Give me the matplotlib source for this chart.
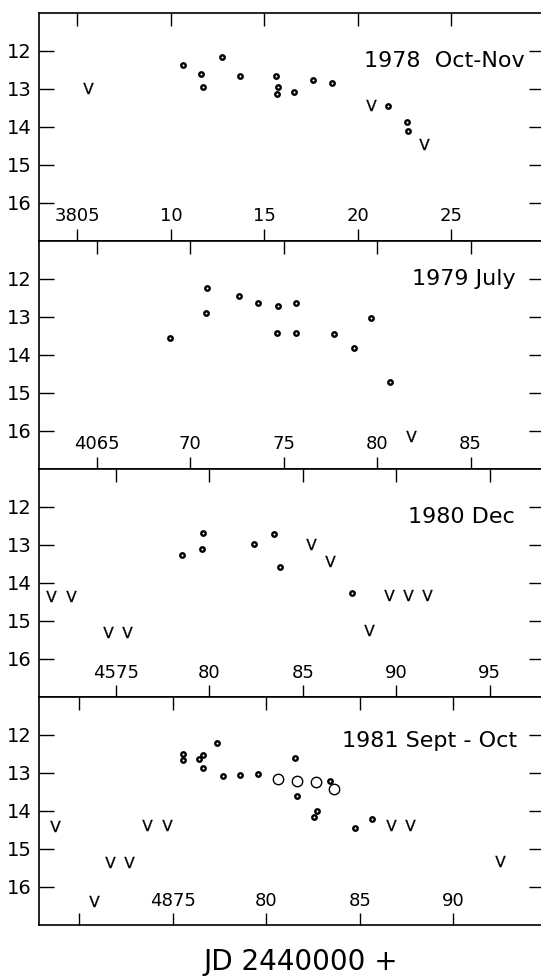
import matplotlib
matplotlib.use("Agg")
import matplotlib.pyplot as plt

# 1978 Oct-Nov
p1_det_jd = [3810.65, 3811.62, 3811.70, 3812.71, 3813.69, 3815.63, 3815.72, 3815.67,
             3816.58, 3817.60, 3818.63, 3821.62, 3822.64, 3822.68]
p1_det_mag = [12.38, 12.63, 12.97, 12.16, 12.67, 12.67, 12.96, 13.14,
              13.09, 12.77, 12.86, 13.47, 13.87, 14.11]
p1_lim_jd = [3805.57, 3820.70, 3823.56]
p1_lim_mag = [12.99, 13.43, 14.47]

# 1979 July
p2_det_jd = [4068.91, 4070.90, 4070.87, 4072.62, 4073.64, 4074.71, 4075.66, 4074.67,
             4075.66, 4077.69, 4078.74, 4079.67, 4080.68]
p2_det_mag = [13.57, 12.25, 12.90, 12.45, 12.65, 12.71, 12.63, 13.44,
              13.42, 13.46, 13.82, 13.03, 14.73]
p2_lim_jd = [4081.79]
p2_lim_mag = [16.13]

# 1980 Dec
p3_det_jd = [4578.56, 4579.61, 4579.67, 4582.42, 4583.45, 4583.76, 4587.64]
p3_det_mag = [13.27, 13.12, 12.69, 12.99, 12.72, 13.58, 14.27]
p3_lim_jd = [4571.55, 4572.60, 4574.57, 4575.61, 4585.42, 4586.44, 4588.56,
             4589.61, 4590.63, 4591.66]
p3_lim_mag = [14.35, 14.35, 15.29, 15.29, 12.99, 13.42, 15.25,
              14.31, 14.31, 14.31]

# 1981 Sept - Oct
p4_det_jd = [4875.56, 4875.56, 4876.41, 4876.63, 4876.59, 4877.34, 4877.66, 4878.59,
             4879.57, 4881.53, 4881.62, 4883.40, 4882.69, 4882.56, 4884.72, 4885.64]
p4_det_mag = [12.50, 12.66, 12.64, 12.52, 12.86, 12.22, 13.08, 13.06,
              13.03, 12.61, 13.62, 13.21, 13.99, 14.15, 14.46, 14.22]
p4_open_jd = [4880.64, 4881.65, 4882.65, 4883.61]
p4_open_mag = [13.17, 13.21, 13.25, 13.43]
p4_lim_jd = [4868.71, 4870.77, 4871.66, 4872.67, 4873.59, 4874.70, 4886.66,
             4887.67, 4892.51]
p4_lim_mag = [14.40, 16.37, 15.33, 15.33, 14.38, 14.38, 14.36,
              14.36, 15.31]

titles = ["1978  Oct-Nov", "1979 July", "1980 Dec", "1981 Sept - Oct"]
jd_ticks = [[3805, 3810, 3815, 3820, 3825],
            [4065, 4070, 4075, 4080, 4085],
            [4575, 4580, 4585, 4590, 4595],
            [4870, 4875, 4880, 4885, 4890]]
jd_ticklabels = [["3805", "10", "15", "20", "25"],
                 ["4065", "70", "75", "80", "85"],
                 ["4575", "80", "85", "90", "95"],
                 ["", "4875", "80", "85", "90"]]
jd_start = [3802.95, 4061.92, 4570.90, 4867.84]
mag_ticks = [12, 13, 14, 15, 16]

det_jd = [p1_det_jd, p2_det_jd, p3_det_jd, p4_det_jd]
det_mag = [p1_det_mag, p2_det_mag, p3_det_mag, p4_det_mag]
lim_jd = [p1_lim_jd, p2_lim_jd, p3_lim_jd, p4_lim_jd]
lim_mag = [p1_lim_mag, p2_lim_mag, p3_lim_mag, p4_lim_mag]

# layout (pixels of the 541x976 figure)
W, H = 541.0, 976.0
left_px, right_px = 39.0, 544.0
top_px, bottom_px = 12.5, 925.0
panel_h = (bottom_px - top_px) / 4
title_x = [0.962, 0.943, 0.943, 0.946]
title_y = [0.789, 0.831, 0.790, 0.808]

fig = plt.figure(figsize=(W / 100, H / 100), dpi=100)
axes = []
for i in range(4):
    y0 = bottom_px - (3 - i) * panel_h
    ax = fig.add_axes([left_px / W, 1 - y0 / H, (right_px - left_px) / W, panel_h / H])
    axes.append(ax)

    ax.plot(det_jd[i], det_mag[i], "o", ms=3.2, mfc="white", mec="black", mew=1.7,
            ls="none")
    ax.plot(lim_jd[i], lim_mag[i], marker=r"$\mathrm{V}$", ms=8, color="black",
            mew=0.2, ls="none")
    if i == 3:
        ax.plot(p4_open_jd, p4_open_mag, "o", ms=7.5, mfc="none", mec="black",
                mew=1.0, ls="none")

    ax.set_xlim(jd_start[i], jd_start[i] + 27.0)
    ax.set_ylim(17, 11)
    ax.set_xticks(jd_ticks[i])
    ax.set_xticklabels(jd_ticklabels[i])
    ax.set_yticks(mag_ticks)
    ax.tick_params(axis="x", direction="in", length=9, width=1.0, top=True,
                   bottom=True, pad=-24, labelsize=13)
    ax.tick_params(axis="y", direction="in", length=11, width=1.0, left=True,
                   right=True, pad=5, labelsize=14)
    for sp in ax.spines.values():
        sp.set_linewidth(1.2)

    ax.text(title_x[i], title_y[i], titles[i], transform=ax.transAxes,
            ha="right", va="center", fontsize=16)

axes[3].set_xlabel("JD 2440000 +", fontsize=20)
axes[3].xaxis.label.set_va("center")
axes[3].xaxis.set_label_coords(0.519, -0.160)

fig.savefig("out.png", dpi=100)
